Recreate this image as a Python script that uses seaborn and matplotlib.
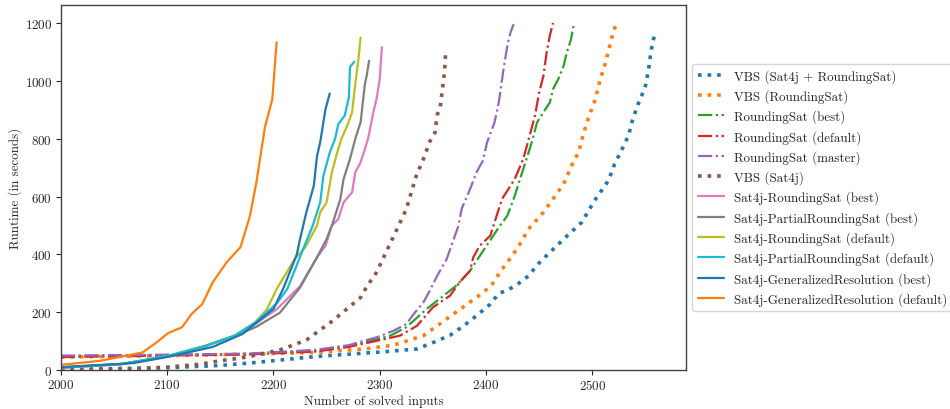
import matplotlib
matplotlib.use("Agg")
import matplotlib.pyplot as plt
import seaborn as sns

# cactus data (number of solved inputs vs runtime)
vbs_all_x = [2000, 2100, 2150, 2183, 2240, 2303, 2335, 2350, 2366, 2379, 2391, 2404, 2412, 2421, 2429,
             2440, 2449, 2458, 2473, 2490, 2502, 2515, 2521, 2528, 2534, 2538, 2543, 2547, 2550, 2553,
             2555, 2557, 2559]
vbs_all_y = [2, 8, 16, 26, 47, 63, 73, 95, 120, 153, 188, 228, 265, 278, 295,
             326, 367, 400, 453, 511, 586, 655, 713, 765, 811, 868, 920, 955, 984, 1042,
             1099, 1140, 1160]

vbs_rs_x = [2000, 2100, 2177, 2240, 2285, 2313, 2341, 2354, 2366, 2380, 2393, 2405, 2413, 2423, 2431,
            2440, 2454, 2463, 2473, 2482, 2487, 2492, 2497, 2503, 2507, 2512, 2516, 2520, 2523]
vbs_rs_y = [45, 50, 55, 61, 73, 86, 119, 153, 185, 222, 257, 292, 338, 388, 430,
            488, 546, 592, 644, 719, 753, 822, 880, 938, 1001, 1059, 1117, 1174, 1201]

rs_best_x = [2000, 2100, 2177, 2240, 2271, 2290, 2310, 2325, 2344, 2360, 2372, 2385, 2395, 2413, 2420,
             2427, 2434, 2438, 2443, 2448, 2454, 2460, 2463, 2468, 2473, 2476, 2480, 2482, 2484]
rs_best_y = [48, 52, 55, 68, 84, 100, 119, 148, 211, 257, 292, 344, 400, 499, 534,
             603, 684, 730, 788, 857, 892, 926, 972, 1007, 1053, 1099, 1145, 1186, 1201]

rs_default_x = [2000, 2100, 2177, 2240, 2271, 2297, 2319, 2335, 2350, 2366, 2375, 2385, 2388, 2394, 2404,
                2410, 2415, 2421, 2427, 2435, 2441, 2446, 2450, 2454, 2457, 2460, 2463]
rs_default_y = [45, 50, 54, 64, 80, 101, 119, 153, 217, 257, 303, 344, 390, 430, 465,
                534, 592, 626, 661, 730, 811, 880, 961, 1018, 1099, 1157, 1201]

rs_master_x = [2000, 2100, 2177, 2240, 2271, 2282, 2297, 2313, 2325, 2332, 2341, 2347, 2354, 2363, 2374,
               2377, 2385, 2391, 2397, 2401, 2408, 2412, 2416, 2420, 2423, 2426]
rs_master_y = [50, 53, 57, 70, 86, 98, 113, 136, 159, 194, 234, 274, 326, 384, 499,
               557, 626, 684, 724, 788, 857, 926, 1030, 1122, 1168, 1197]

vbs_sat4j_x = [2000, 2060, 2100, 2130, 2150, 2170, 2190, 2209, 2231, 2256, 2269, 2282, 2288, 2297, 2303,
               2314, 2325, 2335, 2340, 2347, 2352, 2354, 2357, 2359, 2361, 2362]
vbs_sat4j_y = [0, 3, 10, 20, 32, 42, 56, 73, 104, 171, 211, 251, 290, 338, 385,
               470, 557, 680, 719, 790, 822, 882, 912, 972, 1032, 1099]

s_rs_best_x = [2000, 2057, 2101, 2136, 2164, 2183, 2203, 2225, 2241, 2249, 2255, 2261, 2266, 2274, 2277,
               2282, 2285, 2289, 2294, 2297, 2300, 2302]
s_rs_best_y = [8, 20, 48, 83, 118, 160, 210, 290, 390, 430, 500, 522, 580, 615, 684,
               719, 753, 800, 892, 938, 1007, 1117]

s_prs_best_x = [2000, 2057, 2101, 2136, 2164, 2184, 2206, 2225, 2241, 2250, 2256, 2263, 2266, 2272, 2277,
                2282, 2286, 2288, 2290]
s_prs_best_y = [8, 20, 48, 83, 118, 150, 198, 285, 390, 453, 511, 592, 661, 730, 800,
                857, 988, 1024, 1070]

s_rs_default_x = [2000, 2057, 2101, 2136, 2164, 2183, 2194, 2203, 2220, 2230, 2241, 2244, 2250, 2255, 2260,
                  2264, 2270, 2274, 2277, 2280, 2282]
s_rs_default_y = [9, 21, 49, 84, 120, 165, 211, 280, 384, 425, 500, 546, 580, 684, 753,
                  800, 851, 892, 990, 1076, 1151]

s_prs_default_x = [2000, 2057, 2101, 2136, 2164, 2183, 2203, 2213, 2228, 2237, 2244, 2247, 2253, 2258, 2261,
                   2267, 2271, 2272, 2276]
s_prs_default_y = [9, 21, 49, 84, 120, 165, 230, 280, 419, 500, 580, 672, 753, 800, 851,
                   880, 944, 1048, 1067]

s_gr_best_x = [2000, 2068, 2100, 2143, 2171, 2200, 2209, 2222, 2225, 2231, 2238, 2241, 2244, 2249, 2253]
s_gr_best_y = [10, 24, 45, 80, 125, 211, 280, 400, 453, 546, 638, 740, 788, 903, 957]

s_gr_default_x = [2000, 2037, 2077, 2092, 2101, 2114, 2123, 2133, 2143, 2156, 2169, 2178, 2184, 2192, 2199,
                  2203]
s_gr_default_y = [18, 32, 61, 101, 128, 148, 194, 228, 304, 373, 425, 534, 650, 840, 938,
                  1134]

labels = ['VBS (Sat4j + RoundingSat)', 'VBS (RoundingSat)', 'RoundingSat (best)',
          'RoundingSat (default)', 'RoundingSat (master)', 'VBS (Sat4j)',
          'Sat4j-RoundingSat (best)', 'Sat4j-PartialRoundingSat (best)',
          'Sat4j-RoundingSat (default)', 'Sat4j-PartialRoundingSat (default)',
          'Sat4j-GeneralizedResolution (best)', 'Sat4j-GeneralizedResolution (default)']

series = [(vbs_all_x, vbs_all_y), (vbs_rs_x, vbs_rs_y), (rs_best_x, rs_best_y),
          (rs_default_x, rs_default_y), (rs_master_x, rs_master_y), (vbs_sat4j_x, vbs_sat4j_y),
          (s_rs_best_x, s_rs_best_y), (s_prs_best_x, s_prs_best_y),
          (s_rs_default_x, s_rs_default_y), (s_prs_default_x, s_prs_default_y),
          (s_gr_best_x, s_gr_best_y), (s_gr_default_x, s_gr_default_y)]

palette = sns.color_palette("tab10")
colors = [palette[0], palette[1], palette[2], palette[3], palette[4], palette[5],
          palette[6], palette[7], palette[8], palette[9], palette[0], palette[1]]
styles = [':', ':', '-.', '-.', '-.', ':', '-', '-', '-', '-', '-', '-']

sns.set_style("ticks")
plt.rcParams['font.family'] = 'serif'
plt.rcParams['font.serif'] = ['cmr10', 'DejaVu Serif']
plt.rcParams['mathtext.fontset'] = 'cm'
plt.rcParams['axes.unicode_minus'] = False
plt.rcParams['axes.formatter.use_mathtext'] = True
plt.rcParams['font.size'] = 9.35

fig = plt.figure(figsize=(9.5, 4.1), dpi=100)
ax = fig.add_axes([0.064, 0.095, 0.658, 0.891])

for (xs, ys), lab, col, ls in zip(series, labels, colors, styles):
    lw = 2.6 if ls == ':' else 1.6
    sns.lineplot(x=xs, y=ys, ax=ax, color=col, linestyle=ls, linewidth=lw,
                 label=lab, estimator=None, sort=False)

ax.set_xlim(2000, 2588)
ax.set_ylim(0, 1264)
ax.set_xticks([2000, 2100, 2200, 2300, 2400, 2500])
ax.set_yticks([0, 200, 400, 600, 800, 1000, 1200])
ax.tick_params(labelsize=9.35, pad=2.5, length=3.5)
ax.set_xlabel('Number of solved inputs', labelpad=1.5)
ax.set_ylabel('Runtime (in seconds)', labelpad=2)
for s in ax.spines.values():
    s.set_color('#444444')
    s.set_linewidth(1.0)

ax.legend(loc='center left', bbox_to_anchor=(1.0, 0.5), fontsize=9.35, frameon=True)

fig.savefig('out.png', dpi=100)
